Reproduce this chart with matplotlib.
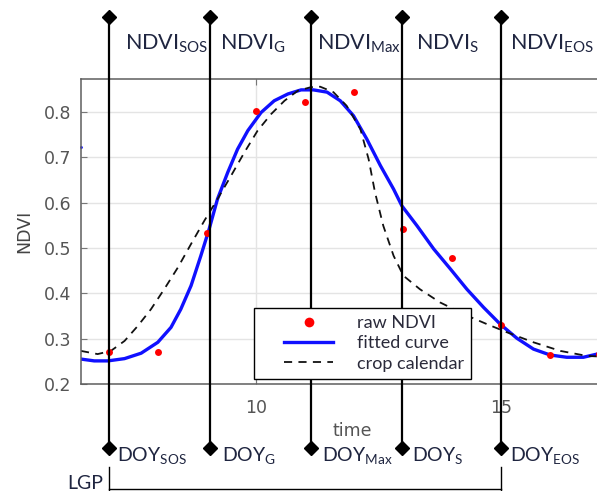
import matplotlib
matplotlib.use("Agg")
import matplotlib.pyplot as plt
from matplotlib.transforms import blended_transform_factory
from matplotlib.legend_handler import HandlerLine2D
from matplotlib.lines import Line2D

plt.rcParams['mathtext.fontset'] = 'custom'
plt.rcParams['mathtext.rm'] = 'Lato'
plt.rcParams['mathtext.it'] = 'Lato'

# ---------------- data ----------------
raw_x = [7, 8, 9, 10, 11, 12, 13, 14, 15, 16, 17]
raw_y = [0.270, 0.270, 0.534, 0.802, 0.823, 0.845, 0.542, 0.477, 0.330, 0.264, 0.266]

fit_x = [6.42, 6.69, 6.97, 7.31, 7.65, 7.99, 8.26, 8.46, 8.67, 8.87, 9.04,
         9.21, 9.42, 9.62, 9.83, 10.10, 10.37, 10.65, 10.92, 11.17, 11.45,
         11.72, 11.99, 12.26, 12.54, 12.81, 12.98, 13.29, 13.63, 13.97, 14.31,
         14.65, 14.99, 15.33, 15.67, 16.01, 16.35, 16.69, 16.97, 17.5]
fit_y = [0.255, 0.251, 0.251, 0.256, 0.268, 0.292, 0.325, 0.365, 0.417, 0.483,
         0.542, 0.608, 0.667, 0.718, 0.759, 0.799, 0.825, 0.840, 0.849, 0.849,
         0.844, 0.825, 0.792, 0.741, 0.682, 0.630, 0.593, 0.549, 0.498, 0.454,
         0.409, 0.369, 0.332, 0.301, 0.277, 0.264, 0.259, 0.259, 0.266, 0.285]

cal_x = [6.42, 6.76, 7.03, 7.31, 7.58, 7.85, 8.12, 8.40, 8.67, 8.94, 9.21,
         9.49, 9.76, 10.03, 10.31, 10.58, 10.85, 11.12, 11.31, 11.58, 11.85,
         12.13, 12.30, 12.43, 12.60, 12.81, 13.01, 13.35, 13.76, 14.31, 14.72,
         15.13, 15.67, 16.22, 16.76, 17.5]
cal_y = [0.273, 0.266, 0.273, 0.295, 0.328, 0.365, 0.409, 0.457, 0.509, 0.560,
         0.608, 0.660, 0.711, 0.759, 0.796, 0.825, 0.847, 0.855, 0.856, 0.844,
         0.814, 0.763, 0.696, 0.623, 0.549, 0.483, 0.439, 0.409, 0.380, 0.351,
         0.332, 0.314, 0.292, 0.273, 0.262, 0.258]

stray_x = [6.42]
stray_y = [0.723]

doy_marks = [7.0, 9.06, 11.12, 12.98, 15.0]
top_labels = [r'NDVI$_{\mathregular{SOS}}$', r'NDVI$_{\mathregular{G}}$',
              r'NDVI$_{\mathregular{Max}}$', r'NDVI$_{\mathregular{S}}$',
              r'NDVI$_{\mathregular{EOS}}$']
bottom_labels = [r'DOY$_{\mathregular{SOS}}$', r'DOY$_{\mathregular{G}}$',
                 r'DOY$_{\mathregular{Max}}$', r'DOY$_{\mathregular{S}}$',
                 r'DOY$_{\mathregular{EOS}}$']
yticks = [0.2, 0.3, 0.4, 0.5, 0.6, 0.7, 0.8]
ytick_labels = ['0.2', '0.3', '0.4', '0.5', '0.6', '0.7', '0.8']
xticks = [10, 15]
xtick_labels = ['10', '15']
legend_labels = ['raw NDVI', 'fitted curve', 'crop calendar']

# ---------------- figure ----------------
W, H = 597, 491
fig = plt.figure(figsize=(W / 100, H / 100), dpi=100)
ax_l, ax_r, ax_t, ax_b = 81, 623, 79, 384
ax = fig.add_axes([ax_l / W, 1 - ax_b / H, (ax_r - ax_l) / W, (ax_b - ax_t) / H])
ax.set_xlim(6.42, 17.5)
ax.set_ylim(0.2, 0.873)

ax.grid(True, color='#e4e4e4', lw=1.0, zorder=0)
ax.set_axisbelow(True)
for s in ax.spines.values():
    s.set_color('#5e5e5e')
    s.set_linewidth(1.1)
ax.spines['right'].set_visible(False)

ax.set_yticks(yticks)
ax.set_yticklabels(ytick_labels)
ax.set_xticks(xticks)
ax.set_xticklabels(xtick_labels)
ax.tick_params(axis='both', direction='in', length=4, color='#777777',
               labelcolor='#555555', labelsize=12.5, top=True)
ax.tick_params(axis='y', pad=7)
ax.tick_params(axis='x', pad=11)

ax.set_xlabel('time', fontsize=12.5, color='#555555')
ax.set_ylabel('NDVI', fontsize=12.5, color='#444444')
ax.xaxis.set_label_coords(0.5, -0.125)
ax.yaxis.set_label_coords(-0.088, 0.5)

h_raw, = ax.plot(raw_x, raw_y, 'o', color='#ff0000', ms=5, mec='none', zorder=3,
                 clip_on=False, label=legend_labels[0])
h_fit, = ax.plot(fit_x, fit_y, '-', color='#1010ff', lw=2.4, zorder=2,
                 solid_joinstyle='round', label=legend_labels[1])
h_cal, = ax.plot(cal_x, cal_y, '--', color='#111111', lw=1.3, dashes=(4.5, 3.5),
                 zorder=2, label=legend_labels[2])
ax.plot(stray_x, stray_y, 'o', color='#1010ff', ms=2, mec='none', clip_on=False)

# vertical phenology lines spanning beyond the axes
trans = blended_transform_factory(ax.transData, fig.transFigure)
y_top = 1 - 17 / H
y_bot = 1 - 448 / H
for xm in doy_marks:
    ax.plot([xm, xm], [y_bot, y_top], '-', color='black', lw=1.6,
            transform=trans, clip_on=False, zorder=4)
    ax.plot([xm, xm], [y_bot, y_top], 'D', color='black', ms=7,
            transform=trans, clip_on=False, zorder=4)

# labels at top and bottom
top_px = [125, 220, 317, 416, 510]
bot_px = [117, 222, 322, 412, 510]
txt_color = '#1f2540'
for px, lab in zip(top_px, top_labels):
    fig.text(px / W, 1 - 50 / H, lab, fontsize=15.5, family='Lato',
             color=txt_color, ha='left', va='baseline')
for px, lab in zip(bot_px, bottom_labels):
    fig.text(px / W, 1 - 461 / H, lab, fontsize=14, family='Lato',
             color=txt_color, ha='left', va='baseline')

# LGP bracket
yb1 = 1 - 467 / H
yb0 = 0.0
yh = 1 - 489 / H
ax.plot([doy_marks[0], doy_marks[0]], [yb0, yb1], color='black', lw=1.0,
        transform=trans, clip_on=False)
ax.plot([doy_marks[-1], doy_marks[-1]], [yb0, yb1], color='black', lw=1.0,
        transform=trans, clip_on=False)
ax.plot([doy_marks[0], doy_marks[-1]], [yh, yh], color='black', lw=1.0,
        transform=trans, clip_on=False)
fig.text(103 / W, 1 - 489 / H, 'LGP', fontsize=14, family='Lato',
         color=txt_color, ha='right', va='baseline')

leg = ax.legend(handles=[h_raw, h_fit, h_cal], loc='lower left',
                bbox_to_anchor=((254 - ax_l) / (ax_r - ax_l), (ax_b - 379) / (ax_b - ax_t)),
                borderaxespad=0, frameon=True, fancybox=False, edgecolor='black',
                framealpha=1, prop={'family': 'Lato', 'size': 13},
                handlelength=4.0, handletextpad=1.3, labelspacing=0.24,
                borderpad=0.4, markerscale=1.4,
                handler_map={Line2D: HandlerLine2D(xpad=1.27)})
leg.get_frame().set_linewidth(1.0)
leg.set_zorder(6)
for t in leg.get_texts():
    t.set_color('#2a2a3a')

fig.savefig('out.png', dpi=100)
